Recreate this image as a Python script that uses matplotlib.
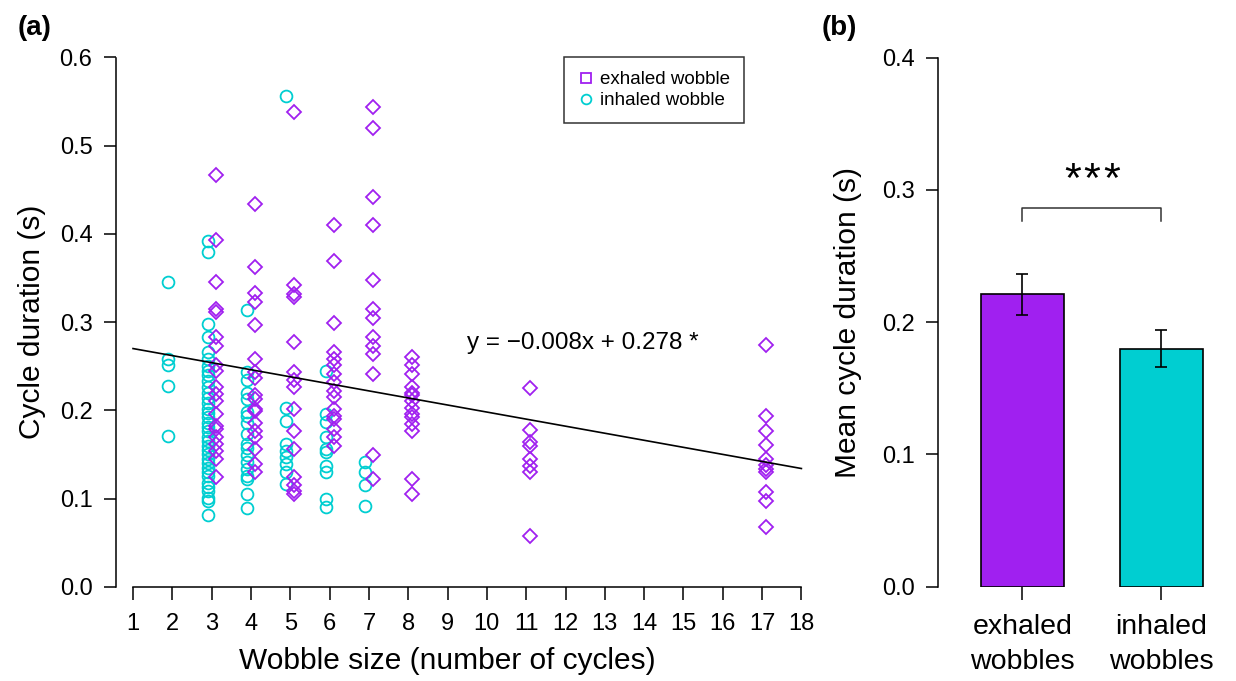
import matplotlib.pyplot as plt
from matplotlib.lines import Line2D
import numpy as np

plt.rcParams['font.family'] = ['Liberation Sans', 'DejaVu Sans']

PURPLE = '#A020F0'
CYAN = '#00CED1'

# panel (a): cycle durations per wobble size
inhaled = {
    2: [0.345, 0.258, 0.251, 0.227, 0.171],
    3: [0.392, 0.380, 0.298, 0.283, 0.266, 0.258, 0.250, 0.245, 0.240, 0.233, 0.226, 0.220,
        0.214, 0.208, 0.202, 0.197, 0.192, 0.186, 0.181, 0.176, 0.170, 0.165, 0.160, 0.155,
        0.150, 0.145, 0.140, 0.135, 0.130, 0.125, 0.118, 0.113, 0.108, 0.101, 0.097, 0.081],
    4: [0.314, 0.243, 0.234, 0.220, 0.213, 0.198, 0.194, 0.186, 0.173, 0.162, 0.157, 0.149,
        0.141, 0.134, 0.126, 0.122, 0.105, 0.089],
    5: [0.556, 0.203, 0.188, 0.162, 0.154, 0.147, 0.139, 0.130, 0.117],
    6: [0.244, 0.196, 0.187, 0.170, 0.156, 0.153, 0.137, 0.130, 0.100, 0.090],
    7: [0.141, 0.130, 0.115, 0.092],
}
exhaled = {
    3: [0.467, 0.393, 0.345, 0.315, 0.312, 0.283, 0.273, 0.251, 0.245, 0.226, 0.219, 0.211,
        0.196, 0.182, 0.179, 0.170, 0.162, 0.154, 0.145, 0.124],
    4: [0.434, 0.363, 0.333, 0.323, 0.297, 0.258, 0.243, 0.237, 0.217, 0.213, 0.202, 0.199,
        0.186, 0.177, 0.170, 0.156, 0.139, 0.130],
    5: [0.538, 0.342, 0.332, 0.328, 0.277, 0.243, 0.234, 0.226, 0.202, 0.177, 0.156, 0.124,
        0.115, 0.109, 0.105],
    6: [0.410, 0.369, 0.299, 0.266, 0.258, 0.251, 0.241, 0.232, 0.222, 0.215, 0.202, 0.194,
        0.190, 0.179, 0.170, 0.160],
    7: [0.544, 0.520, 0.442, 0.410, 0.348, 0.315, 0.305, 0.283, 0.273, 0.264, 0.241, 0.149, 0.122],
    8: [0.260, 0.251, 0.241, 0.226, 0.220, 0.217, 0.211, 0.203, 0.196, 0.192, 0.185, 0.177,
        0.122, 0.105],
    11: [0.225, 0.178, 0.164, 0.160, 0.145, 0.137, 0.130, 0.058],
    17: [0.274, 0.193, 0.177, 0.161, 0.145, 0.138, 0.134, 0.130, 0.107, 0.097, 0.068],
}
reg_slope = -0.008
reg_intercept = 0.278
reg_label = 'y = \u22120.008x + 0.278 *'

# panel (b): means with error bars
bar_labels = ['exhaled\nwobbles', 'inhaled\nwobbles']
bar_means = [0.221, 0.180]
bar_errs = [0.0155, 0.0140]

fig = plt.figure(figsize=(12.36, 6.81), dpi=100)
W, H = 1236, 681

def px_axes(left, top, right, bottom):
    return fig.add_axes([left / W, 1 - bottom / H, (right - left) / W, (bottom - top) / H])

# ---------- panel (a)
ax = px_axes(116, 586.7 - 0.62 * 882, 813.2, 586.7)
ax.set_xlim(0.567, 18.3)
ax.set_ylim(0, 0.62)

for size, vals in inhaled.items():
    ax.plot(np.full(len(vals), size - 0.1), vals, 'o', ms=8.5, mfc='none', mec=CYAN, mew=1.3,
            clip_on=False)
for size, vals in exhaled.items():
    ax.plot(np.full(len(vals), size + 0.1), vals, 'D', ms=7.3, mfc='none', mec=PURPLE, mew=1.3,
            clip_on=False)

xs = np.array([1, 18])
ax.plot(xs, reg_slope * xs + reg_intercept, color='black', lw=1.2)
ax.text(9.5, 0.276, reg_label, fontsize=17.5, va='center', ha='left')

for s in ['top', 'right']:
    ax.spines[s].set_visible(False)
ax.spines['left'].set_bounds(0, 0.6)
ax.spines['bottom'].set_bounds(1, 18)
for s in ['left', 'bottom']:
    ax.spines[s].set_linewidth(1.1)
ax.set_xticks(range(1, 19))
ax.set_yticks(np.arange(0, 0.61, 0.1))
ax.set_yticklabels([f'{v:.1f}' for v in np.arange(0, 0.61, 0.1)])
ax.tick_params(direction='out', length=9, width=1.1, labelsize=17, pad=8)
ax.tick_params(axis='x', pad=10)
ax.set_xlabel('Wobble size (number of cycles)', fontsize=21.5)
ax.set_ylabel('Cycle duration (s)', fontsize=21.5)
ax.xaxis.set_label_coords((447 - 116) / (813.2 - 116), (586.7 - 647) / (0.62 * 882))
ax.yaxis.set_label_coords((46 - 116) / (813.2 - 116), (586.7 - 322) / (0.62 * 882))

handles = [
    Line2D([], [], ls='none', marker='s', ms=7, mfc='none', mec=PURPLE, mew=1.3),
    Line2D([], [], ls='none', marker='o', ms=7, mfc='none', mec=CYAN, mew=1.3),
]
leg = fig.legend(handles, ['exhaled wobble', 'inhaled wobble'], loc='upper left',
                 bbox_to_anchor=(564 / W, 1 - 57 / H), fontsize=13.5, frameon=True,
                 fancybox=False, edgecolor='black', handlelength=0.8, handletextpad=0.35,
                 borderpad=0.75, labelspacing=0.2, borderaxespad=0)
leg.get_frame().set_linewidth(1.1)

fig.text(18 / W, 1 - 28 / H, '(a)', fontsize=20, fontweight='bold', va='center', ha='left')

# ---------- panel (b)
bx = px_axes(938.3, 586.7 - 0.42 * 1322.5, 1224, 586.7)
bx.set_xlim(-0.605, 1.45)
bx.set_ylim(0, 0.42)
pos = np.arange(len(bar_means))
bx.bar(pos, bar_means, width=0.6, color=[PURPLE, CYAN], edgecolor='black', linewidth=1.2)
bx.errorbar(pos, bar_means, yerr=bar_errs, fmt='none', ecolor='black', elinewidth=1.2,
            capsize=4.5, capthick=1.2)

# significance bracket and stars
bx.plot([0, 0, 1, 1], [0.2767, 0.286, 0.286, 0.2767], color='#333333', lw=1.1)
for dx in (-14, 0, 14):
    bx.annotate('*', xy=(0.5, 0.307), xytext=(dx, 0), textcoords='offset points',
                fontsize=31, ha='center', va='center')

for s in ['top', 'right', 'bottom']:
    bx.spines[s].set_visible(False)
bx.spines['left'].set_bounds(0, 0.4)
bx.spines['left'].set_linewidth(1.1)
bx.set_yticks(np.arange(0, 0.41, 0.1))
bx.set_yticklabels([f'{v:.1f}' for v in np.arange(0, 0.41, 0.1)])
bx.set_xticks(pos)
bx.set_xticklabels(bar_labels, fontsize=20.5, linespacing=1.42)
bx.tick_params(direction='out', length=9, width=1.1, labelsize=17, pad=8)
bx.tick_params(axis='x', labelsize=20.5, pad=11)
bx.set_ylabel('Mean cycle duration (s)', fontsize=21.5)
bx.yaxis.set_label_coords((862 - 938.3) / (1224 - 938.3), (586.7 - 322) / (0.42 * 1322.5))

fig.text(822 / W, 1 - 28 / H, '(b)', fontsize=20, fontweight='bold', va='center', ha='left')

fig.savefig('out.png', dpi=100)
